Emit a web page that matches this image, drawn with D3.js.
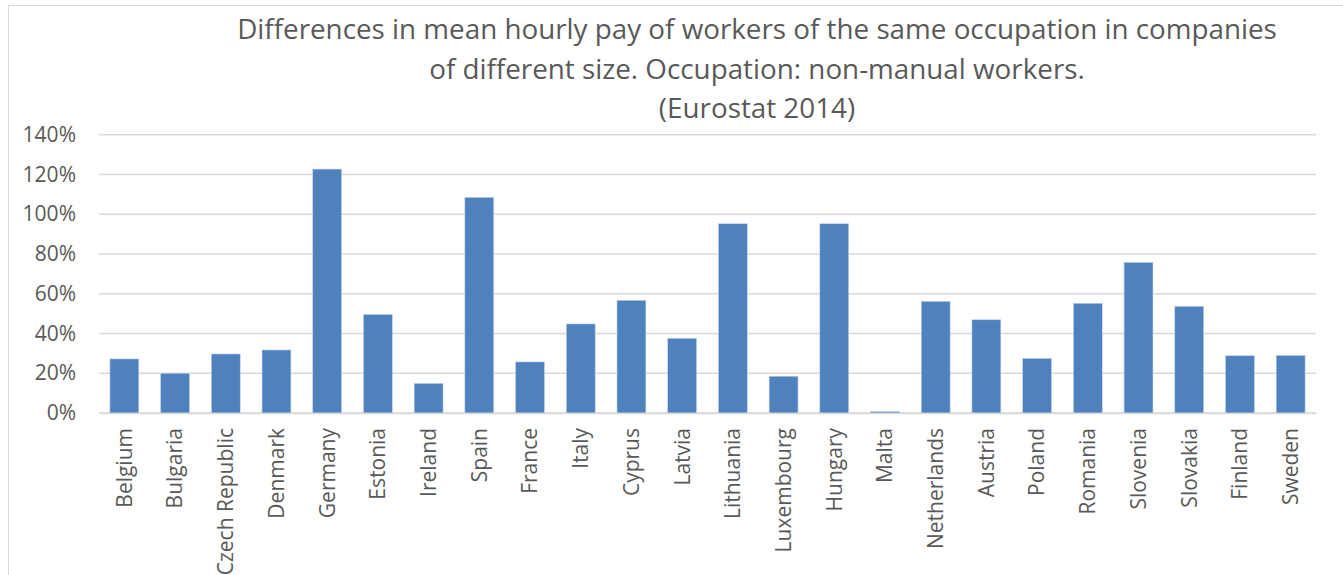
<!DOCTYPE html>
<html>
<head>
<meta charset="utf-8">
<script src="https://cdn.jsdelivr.net/npm/d3@7"></script>
<style>
  html, body { margin: 0; padding: 0; background: #fff; }
  svg { display: block; }
</style>
</head>
<body>
<svg id="chart" width="1343" height="575"></svg>
<script>
const titleLines = [
  "Differences in mean hourly pay of workers of the same occupation in companies",
  "of different size. Occupation: non-manual workers.",
  "(Eurostat 2014)"
];
const countries = ["Belgium","Bulgaria","Czech Republic","Denmark","Germany","Estonia","Ireland","Spain","France","Italy","Cyprus","Latvia","Lithuania","Luxembourg","Hungary","Malta","Netherlands","Austria","Poland","Romania","Slovenia","Slovakia","Finland","Sweden"];
const values = [0.272,0.200,0.297,0.317,1.227,0.496,0.149,1.085,0.257,0.448,0.567,0.376,0.952,0.185,0.952,0.007,0.562,0.469,0.275,0.552,0.758,0.537,0.288,0.290];
const yTicks = [0,0.2,0.4,0.6,0.8,1.0,1.2,1.4];

(function () {
const svg = d3.select("#chart");
const font = "'Open Sans', sans-serif";
const textColor = "#595959";

// chart frame
svg.append("rect").attr("x", 8.5).attr("y", 5.5).attr("width", 1400).attr("height", 600)
  .attr("fill", "none").attr("stroke", "#d9d9d9").attr("stroke-width", 1);

const pLeft = 99, pRight = 1316, pTop = 134.7, pBottom = 413;
const x = d3.scaleBand().domain(countries).range([pLeft, pRight]).paddingInner(0.43).paddingOuter(0.215);
const y = d3.scaleLinear().domain([0, 1.4]).range([pBottom, pTop]);

// gridlines
svg.append("g").selectAll("line").data(yTicks).join("line")
  .attr("x1", pLeft).attr("x2", pRight)
  .attr("y1", d => y(d)).attr("y2", d => y(d))
  .attr("stroke", "#d9d9d9").attr("stroke-width", 1.5);

// y axis labels
const yAxis = d3.axisLeft(y).tickValues(yTicks).tickFormat(d3.format(".0%")).tickSize(0).tickPadding(23);
const gy = svg.append("g").attr("transform", `translate(${pLeft},0)`).call(yAxis);
gy.select(".domain").remove();
gy.selectAll("text").attr("font-family", font).attr("font-size", 21).attr("fill", textColor);

// bars
svg.append("g").selectAll("rect").data(countries).join("rect")
  .attr("x", d => x(d)).attr("width", x.bandwidth())
  .attr("y", (d, i) => y(values[i])).attr("height", (d, i) => y(0) - y(values[i]))
  .attr("fill", "#4f81bd").attr("stroke", "#c6d4e8").attr("stroke-width", 0.6);

// x axis
const xAxis = d3.axisBottom(x).tickSize(0).tickPadding(0);
const gx = svg.append("g").attr("transform", `translate(0,${pBottom})`).call(xAxis);
gx.select(".domain").attr("stroke", "#d9d9d9").attr("stroke-width", 1.5);
gx.selectAll("text")
  .attr("font-family", font).attr("font-size", 21).attr("fill", textColor)
  .attr("transform", "rotate(-90)")
  .attr("text-anchor", "end")
  .attr("x", -15).attr("y", 0).attr("dy", "0.35em");

// title
svg.append("g").selectAll("text").data(titleLines).join("text")
  .attr("x", 757).attr("y", (d, i) => 39 + i * 39.5)
  .attr("text-anchor", "middle")
  .attr("font-family", font).attr("font-size", 27.8).attr("fill", textColor)
  .text(d => d);
})();
</script>
</body>
</html>
